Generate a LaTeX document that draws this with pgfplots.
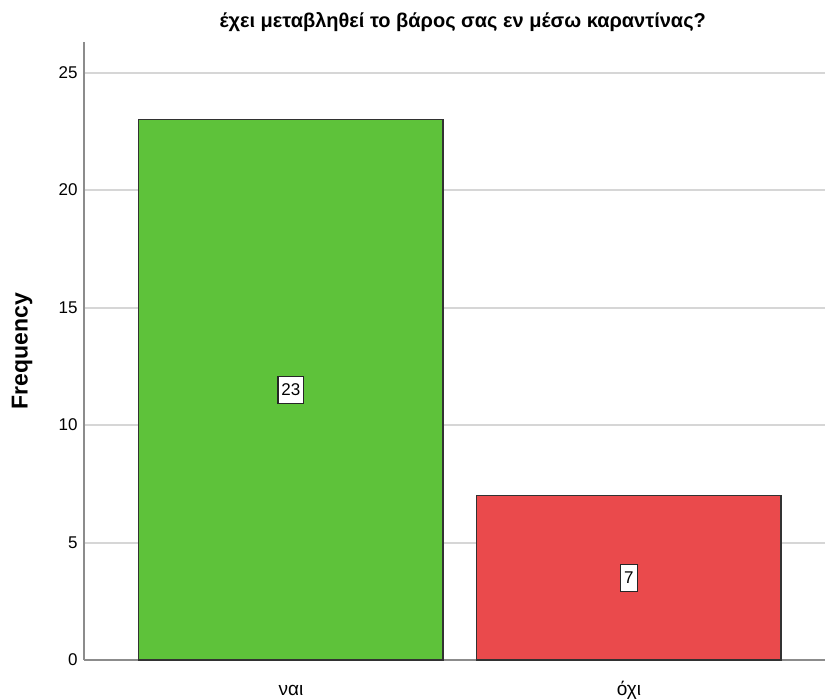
\documentclass[border=0pt]{standalone}
\usepackage{pgfplots}
\pgfplotsset{compat=1.18}
\usepackage{fontspec}
\setmainfont{Liberation Sans}
\definecolor{barGreen}{RGB}{94,194,58}
\definecolor{barRed}{RGB}{234,74,76}
\definecolor{gridGray}{RGB}{214,214,214}
\definecolor{axisGray}{RGB}{140,140,140}
\definecolor{edgeGray}{RGB}{50,50,50}
\begin{document}
\begin{tikzpicture}[x=1pt,y=1pt]
\useasboundingbox (0,0) rectangle (825,700);
\begin{axis}[
  at={(84pt,40pt)}, anchor=south west,
  scale only axis, width=741pt, height=618pt,
  xmin=-0.612, xmax=1.58, ymin=0, ymax=26.3,
  axis x line*=bottom, axis y line*=left,
  axis line style={-, axisGray, line width=1.5pt},
  ytick={0,5,...,25}, xtick={0,1},
  xticklabels={ναι, όχι},
  major tick length=0pt,
  ymajorgrids, grid style={gridGray, line width=2pt},
  /pgf/number format/assume math mode=true,
  yticklabel style={font=\fontsize{17}{17}\selectfont, xshift=-3pt},
  xticklabel style={font=\fontsize{19}{19}\selectfont, anchor=base, yshift=-36pt},
  ylabel={\bfseries Frequency},
  every axis y label/.style={at={(axis description cs:0,0.5)}, xshift=-62pt,
    rotate=90, anchor=center, font=\fontsize{23}{23}\selectfont},
  title={\bfseries έχει μεταβληθεί το βάρος σας εν μέσω καραντίνας?},
  title style={font=\fontsize{20}{20}\selectfont, at={(axis description cs:0.511,1)}, anchor=south, yshift=1pt},
  clip=false,
  visualization depends on={y \as \rawy},
  nodes near coords,
  nodes near coords style={
    anchor=center, fill=white, draw=black!85, line width=1.2pt,
    font=\fontsize{17}{17}\selectfont, inner xsep=3.5pt, inner ysep=0pt,
    minimum height=27pt,
    shift={(axis direction cs:0,-\rawy/2)}},
]
\addplot[ybar, bar width=0.9, fill=barGreen, draw=edgeGray, line width=1.2pt]
  coordinates {(0,23)};
\addplot[ybar, bar width=0.9, fill=barRed, draw=edgeGray, line width=1.2pt]
  coordinates {(1,7)};
\end{axis}
\end{tikzpicture}
\end{document}
